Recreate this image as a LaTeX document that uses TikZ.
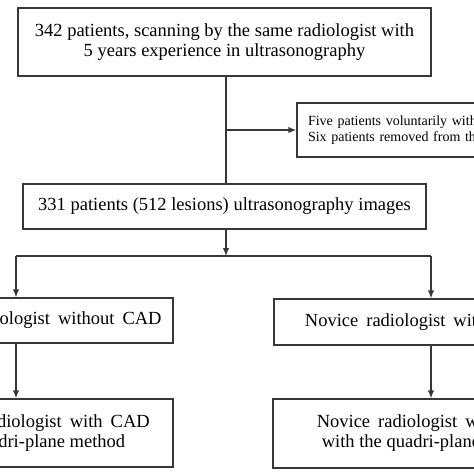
\documentclass[tikz,border=0pt]{standalone}
\usepackage{fontspec}
\setmainfont{Liberation Serif}
\usepackage{tikz}
\usetikzlibrary{arrows.meta,positioning}
\definecolor{linegray}{RGB}{55,55,55}
\tikzstyle{box} = [rectangle, draw=linegray, line width=1.3pt, text=black,
text centered, align=center, inner sep=0pt, font=\fontsize{18.5}{20}\selectfont]
\tikzstyle{sidebox} = [rectangle, draw=linegray, line width=1.3pt, text=black,
align=left, inner xsep=11pt, inner ysep=0pt, font=\fontsize{14}{16}\selectfont]
\tikzstyle{tedge}  = [draw=linegray, line width=1.3pt, >={Latex[length=8pt,width=6.5pt]}, ->]
\newcommand{\wideline}[1]{{\spaceskip=8pt #1}}
\begin{document}
\begin{tikzpicture}[x=1pt,y=-1pt]
\useasboundingbox (0,0) rectangle (474,474);
\clip (0,0) rectangle (474,474);

\node[box, minimum width=413pt, minimum height=68pt] (scan) at (224.5,42)
  {342 patients, scanning by the same radiologist with\\5 years experience in ultrasonography};
\node[box, minimum width=403pt, minimum height=45pt] (images) at (224.5,206.5)
  {331 patients (512 lesions) ultrasonography images};

% exclusion box =============================
\node[sidebox, text width=241pt, minimum height=54pt] (excl) at (428.5,130)
  {Five patients voluntarily withdrew\\Six patients removed from the study};

\coordinate (trunk) at (226,76);
\draw[tedge, -] (trunk) -- (trunk |- images.north);
\draw[tedge] (trunk |- excl.west) -- (excl.west);

% two readers =============================
\node[box, minimum width=314pt, minimum height=45pt] (expnocad) at (16,320.5)
  {\wideline{Experienced radiologist without CAD}};
\node[box, minimum width=314pt, minimum height=46pt] (novnocad) at (431,322)
  {\wideline{Novice radiologist without CAD}};
\node[box, minimum width=314pt, minimum height=68pt] (expcad) at (16,433)
  {\wideline{Experienced radiologist with CAD}\\with the quadri-plane method};
\node[box, minimum width=316pt, minimum height=69pt] (novcad) at (431,433.5)
  {\wideline{Novice radiologist with CAD}\\with the quadri-plane method};

\coordinate (split) at (226,256);
\draw[tedge] (trunk |- images.south) -- (split);
\draw[tedge, -] (expnocad.north |- split) -- (novnocad.north |- split);
\draw[tedge] (expnocad.north |- split) -- (expnocad.north);
\draw[tedge] (novnocad.north |- split) -- (novnocad.north);

\draw[tedge] (expnocad) -- (expcad);
\draw[tedge] (novnocad) -- (novcad);

\end{tikzpicture}
\end{document}
